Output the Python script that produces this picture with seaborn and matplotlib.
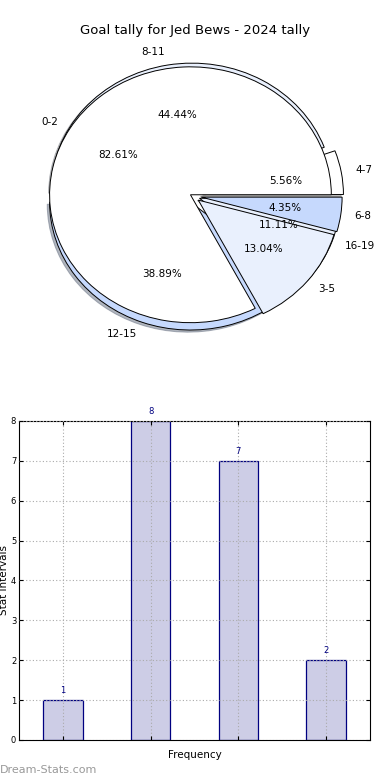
import matplotlib
matplotlib.use('Agg')
import matplotlib.pyplot as plt
import seaborn as sns
import pandas as pd

# data
title = 'Goal tally for Jed Bews - 2024 tally'
stat_labels = ['4-7', '8-11', '12-15', '16-19']
stat_counts = [1, 8, 7, 2]
low_labels = ['0-2', '3-5', '6-8']
low_counts = [19, 3, 1]

sns.set_style('white')
plt.rcParams['font.family'] = ['DejaVu Sans']
plt.rcParams['text.color'] = 'black'
plt.rcParams['axes.labelcolor'] = 'black'
plt.rcParams['xtick.color'] = 'black'
plt.rcParams['ytick.color'] = 'black'

fig = plt.figure(figsize=(3.9, 7.8), dpi=100)

# pie part (two pies on top of each other)
ax1 = fig.add_axes([0.043, 0.5436, 0.903, 0.41])
ax1.pie(stat_counts, labels=stat_labels, autopct='%1.2f%%',
        colors=['#ffffff', '#e9f0fd', '#c6d9fd', '#e9f0fd'],
        explode=[0.07, 0.04, 0.05, 0.05],
        shadow={'ox': -0.012, 'oy': -0.012, 'shade': 0.5},
        wedgeprops={'edgecolor': 'black', 'linewidth': 0.7},
        textprops={'fontsize': 7.5})
ax1.pie(low_counts, labels=low_labels, autopct='%1.2f%%',
        colors=['#ffffff', '#e9f0fd', '#c6d9fd'],
        explode=[0.02, 0.05, 0.06],
        wedgeprops={'edgecolor': 'black', 'linewidth': 0.7},
        textprops={'fontsize': 7.5})
ax1.set_xlim(-1.25, 1.25)
ax1.set_ylim(-1.25, 1.25)
ax1.set_aspect('auto')
fig.text(0.5, 0.961, title, ha='center', va='center', fontsize=9.5)

# bar part
df = pd.DataFrame({'interval': stat_labels, 'count': stat_counts})
ax2 = fig.add_axes([0.0487, 0.0513, 0.9, 0.409])
sns.barplot(data=df, x='interval', y='count', ax=ax2, width=0.45,
            color='#cdcde6', edgecolor='#000080',
            linewidth=0.9, saturation=1)
for p, v in zip(ax2.patches, stat_counts):
    ax2.text(p.get_x() + p.get_width() / 2, v + 0.12, str(v),
             ha='center', va='bottom', fontsize=6, color='#000080')
ax2.set_ylim(0, 8)
ax2.set_xlim(-0.5, 3.5)
ax2.set_xticklabels([])
ax2.set_yticks(range(0, 9))
ax2.tick_params(axis='both', direction='in', length=3, labelsize=6,
                top=True, right=True, left=True, bottom=True, pad=2)
ax2.grid(True, linestyle=(0, (1, 2)), color='#aaaaaa', linewidth=0.8)
ax2.set_axisbelow(False)
for s in ax2.spines.values():
    s.set_color('black')
    s.set_linewidth(0.8)
ax2.set_xlabel('Frequency', fontsize=7.5, labelpad=5)
ax2.set_ylabel('Stat intervals', fontsize=7.5, labelpad=1)

fig.text(0.0, 0.013, 'Dream-Stats.com', fontsize=8, color='#999999',
         ha='left', va='center')

fig.savefig('out.png', dpi=100)
